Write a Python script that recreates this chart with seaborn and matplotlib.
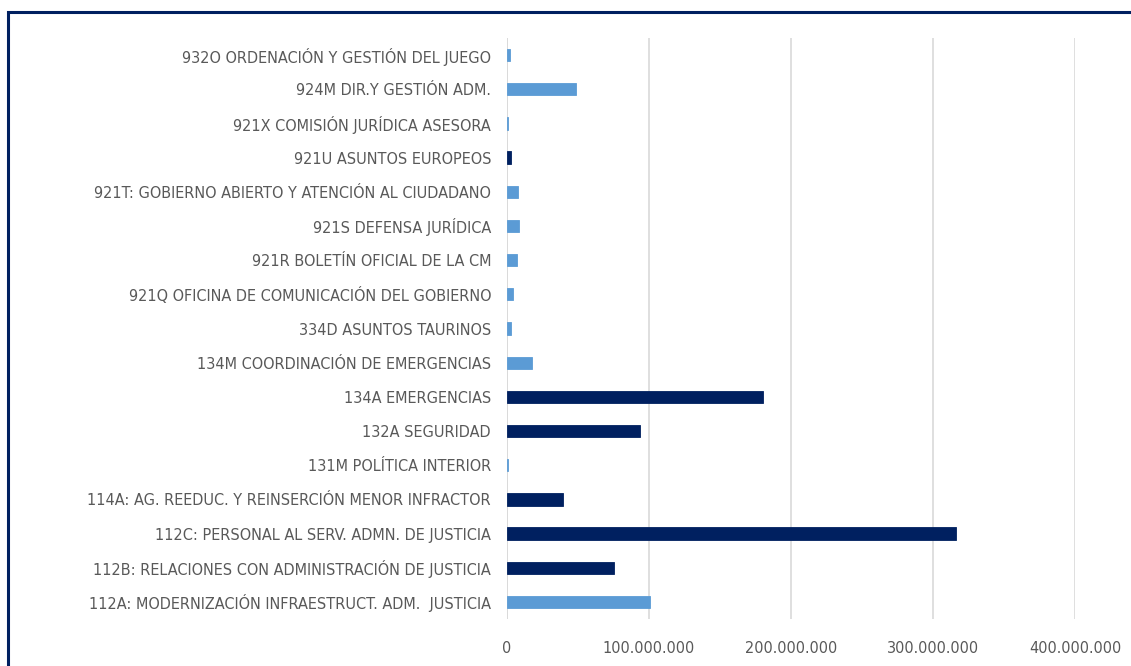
import seaborn as sns
import matplotlib.pyplot as plt
import pandas as pd
from matplotlib.patches import Rectangle
from matplotlib.ticker import FuncFormatter

programas = [
    "932O ORDENACIÓN Y GESTIÓN DEL JUEGO",
    "924M DIR.Y GESTIÓN ADM.",
    "921X COMISIÓN JURÍDICA ASESORA",
    "921U ASUNTOS EUROPEOS",
    "921T: GOBIERNO ABIERTO Y ATENCIÓN AL CIUDADANO",
    "921S DEFENSA JURÍDICA",
    "921R BOLETÍN OFICIAL DE LA CM",
    "921Q OFICINA DE COMUNICACIÓN DEL GOBIERNO",
    "334D ASUNTOS TAURINOS",
    "134M COORDINACIÓN DE EMERGENCIAS",
    "134A EMERGENCIAS",
    "132A SEGURIDAD",
    "131M POLÍTICA INTERIOR",
    "114A: AG. REEDUC. Y REINSERCIÓN MENOR INFRACTOR",
    "112C: PERSONAL AL SERV. ADMN. DE JUSTICIA",
    "112B: RELACIONES CON ADMINISTRACIÓN DE JUSTICIA",
    "112A: MODERNIZACIÓN INFRAESTRUCT. ADM.  JUSTICIA",
]
importes = [
    2400000, 48600000, 1000000, 3100000, 7700000, 8500000, 7000000, 4500000,
    3100000, 17900000, 180300000, 93900000, 1000000, 39700000, 316500000,
    75400000, 100700000,
]
grupo = [
    "claro", "claro", "claro", "oscuro", "claro", "claro", "claro", "claro",
    "claro", "claro", "oscuro", "oscuro", "claro", "oscuro", "oscuro",
    "oscuro", "claro",
]
ticks = [0, 100000000, 200000000, 300000000, 400000000]

df = pd.DataFrame({"programa": programas, "importe": importes, "grupo": grupo})

sns.set_theme(style="white")
plt.rcParams["font.family"] = ["DejaVu Sans"]
plt.rcParams["font.stretch"] = "condensed"

fig = plt.figure(figsize=(11.31, 6.66), dpi=100)
ax = fig.add_axes([0.4483, 0.0706, 0.5022, 0.8723])

sns.barplot(data=df, x="importe", y="programa", hue="grupo", order=programas,
            palette={"claro": "#5B9BD5", "oscuro": "#002060"}, saturation=1,
            dodge=False, legend=False, width=0.36, ax=ax)
for p in ax.patches:
    p.set_edgecolor(p.get_facecolor())
    p.set_linewidth(0.6)

ax.set_xlim(0, 400000000)
ax.set_xticks(ticks)
ax.xaxis.set_major_formatter(FuncFormatter(lambda v, p: f"{int(v):,}".replace(",", ".")))
ax.grid(axis="x", color="#D9D9D9", linewidth=1.2)
ax.set_axisbelow(True)
for s in ax.spines.values():
    s.set_visible(False)
ax.axvline(0, color="#D9D9D9", linewidth=1.2, zorder=0)
ax.set_xlabel("")
ax.set_ylabel("")
ax.tick_params(axis="both", length=0, labelsize=11.6, colors="#595959")
ax.tick_params(axis="y", pad=11.5)
ax.tick_params(axis="x", pad=16)

# marco del gráfico
fig.patches.append(Rectangle((8 / 1131, -0.1), 1.2, 1 - 12 / 666 + 0.1,
                             transform=fig.transFigure, fill=False,
                             edgecolor="#002060", linewidth=2.2))

fig.savefig("out.png", dpi=100)
